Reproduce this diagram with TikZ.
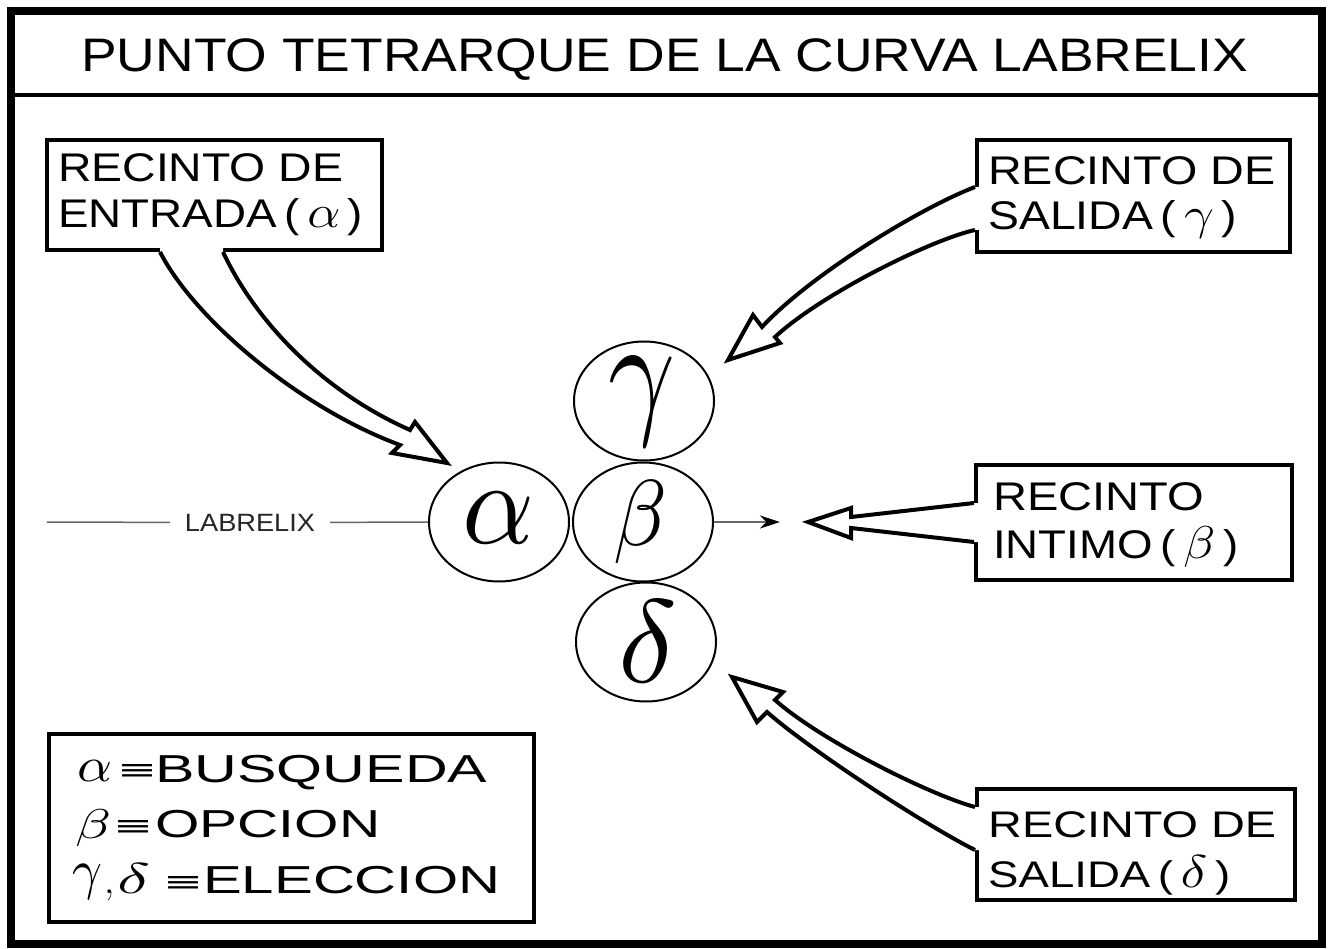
\RequirePackage{fix-cm}
\documentclass[tikz,border=0pt]{standalone}
\usepackage{fontspec}
\setmainfont{Liberation Sans}
\newfontfamily\dejavu{DejaVu Sans}
\usepackage{graphicx}
\usetikzlibrary{shapes.geometric,arrows.meta,calc}
\newcommand\bgk[1]{{\fontsize{46}{48}\selectfont$#1$}}
\newcommand\eqv{\resizebox*{40pt}{15pt}{\dejavu ≡}}
\begin{document}
\begin{tikzpicture}[x=1pt,y=-1pt,
  outerframe/.style={draw=black,line width=8pt},
  rbox/.style={draw=black,line width=4pt,anchor=north west,inner sep=0pt},
  txt/.style={anchor=base west,inner sep=0pt,font=\fontsize{40}{42}\selectfont},
  circ/.style={ellipse,draw=black,line width=2pt,minimum width=140pt,minimum height=119pt,inner sep=0pt},
  fat/.style={draw=black,line width=4pt,line join=miter},
  greyline/.style={draw=black!60,line width=1.5pt},
  gk/.style={inner sep=0pt}]

\useasboundingbox (0,0) rectangle (1330,949);
\fill[white] (0,0) rectangle (1330,949);

% frame and title
\draw[outerframe] (11,11) rectangle (1322,944);
\coordinate (sepL) at (11,95);
\coordinate (sepR) at (1322,95);
\draw[line width=4.5pt] (sepL) -- (sepR);
\node[anchor=base west,inner sep=0pt,font=\fontsize{47}{49}\selectfont] (title) at (81,72)
  {\resizebox{1167pt}{\height}{PUNTO TETRARQUE DE LA CURVA LABRELIX}};

% boxes
\node[rbox,minimum width=335pt,minimum height=110pt] (bA) at (45,138) {};
\node[rbox,minimum width=313pt,minimum height=112pt] (bG) at (975,138) {};
\node[rbox,minimum width=316pt,minimum height=115pt] (bB) at (974,463) {};
\node[rbox,minimum width=318pt,minimum height=111pt] (bD) at (975,787) {};
\node[rbox,minimum width=485pt,minimum height=188pt] (leg) at (47,732) {};

% circles
\node[circ] (cA) at (499,522) {};
\node[circ] (cB) at (643,522) {};
\node[circ] (cG) at (644,401) {};
\node[circ] (cD) at (646,642) {};
\node[gk] (lA) at ($(cA)+(0,-4)$) {\resizebox*{72pt}{51pt}{$\alpha$}};
\node[gk] (lB) at ($(cB)+(-3,0)$) {\resizebox*{54pt}{83pt}{$\beta$}};
\node[gk] (lG) at ($(cG)+(-2,1)$) {\resizebox*{67pt}{89pt}{$\gamma$}};
\node[gk] (lD) at ($(cD)+(2,-1)$) {\resizebox*{59pt}{82pt}{$\delta$}};

% labrelix line
\coordinate (lStart) at (47,522);
\node[anchor=base,inner xsep=15pt,inner ysep=0pt,text=black!85,font=\fontsize{25}{27}\selectfont] (lab) at (250,531)
  {\resizebox{130pt}{\height}{LABRELIX}};
\draw[greyline] (lStart) -- (lab.west);
\draw[greyline] (lab.east) -- (cA.west);
\coordinate (bEnd) at (780,522);
\draw[greyline,-{Stealth[length=20pt,width=13pt,color=black]}] (cB.east) -- (bEnd);

% fat arrow alpha
\coordinate (aL) at ($(bA.south west)+(115,0)$);
\coordinate (aR) at ($(bA.south west)+(178,0)$);
\coordinate (aT) at (447,463);
\fill[white] (aL) .. controls (195,320) and (300,408) .. (400,445) -- (392,453) -- (aT) -- (415,422) -- (410,430)
  .. controls (320,390) and (255,320) .. (aR) -- ($(aR)+(0,-7)$) -- ($(aL)+(0,-7)$) -- cycle;
\draw[fat] (aL) .. controls (195,320) and (300,408) .. (400,445) -- (392,453) -- (aT) -- (415,422) -- (410,430)
  .. controls (320,390) and (255,320) .. (aR);

% fat arrow gamma
\coordinate (gU) at ($(bG.north west)+(0,49)$);
\coordinate (gL) at ($(bG.north west)+(0,92)$);
\coordinate (gT) at (728,360);
\fill[white] (gU) .. controls (920,208) and (810,275) .. (762,327) -- (753,315) -- (gT) -- (780,343) -- (775,337)
  .. controls (820,295) and (930,240) .. (gL) -- ($(gL)+(7,0)$) -- ($(gU)+(7,0)$) -- cycle;
\draw[fat] (gU) .. controls (920,208) and (810,275) .. (762,327) -- (753,315) -- (gT) -- (780,343) -- (775,337)
  .. controls (820,295) and (930,240) .. (gL);

% fat arrow beta
\coordinate (bbU) at ($(bB.north west)+(0,40)$);
\coordinate (bbL) at ($(bB.north west)+(0,79)$);
\coordinate (bT) at (808,522);
\fill[white] (bbU) -- (851,517) -- (851,508) -- (bT) -- (851,538) -- (851,528) -- (bbL)
  -- ($(bbL)+(7,0)$) -- ($(bbU)+(7,0)$) -- cycle;
\draw[fat] (bbU) -- (851,517) -- (851,508) -- (bT) -- (851,538) -- (851,528) -- (bbL);

% fat arrow delta
\coordinate (dU) at ($(bD.north west)+(0,20)$);
\coordinate (dL) at ($(bD.north west)+(0,63)$);
\coordinate (dT) at (732,677);
\fill[white] (dU) .. controls (930,795) and (820,740) .. (775,700) -- (783,692) -- (dT) -- (757,722) -- (767,712)
  .. controls (810,750) and (925,825) .. (dL) -- ($(dL)+(7,0)$) -- ($(dU)+(7,0)$) -- cycle;
\draw[fat] (dU) .. controls (930,795) and (820,740) .. (775,700) -- (783,692) -- (dT) -- (757,722) -- (767,712)
  .. controls (810,750) and (925,825) .. (dL);

% box texts
\node[txt] (tA1) at (58,182) {\resizebox{285pt}{\height}{RECINTO DE}};
\node[txt] (tA2) at (58,228) {\resizebox{305pt}{\height}{ENTRADA\,(\,\bgk{\alpha}\,)}};
\node[txt] (tG1) at (988,185) {\resizebox{287pt}{\height}{RECINTO DE}};
\node[txt] (tG2) at (988,230) {\resizebox{249pt}{\height}{SALIDA\,(\,\bgk{\gamma}\,)}};
\node[txt] (tB1) at (993,510) {\resizebox{211pt}{\height}{RECINTO}};
\node[txt] (tB2) at (993,558) {\resizebox{245pt}{\height}{INTIMO\,(\,\bgk{\beta}\,)}};
\node[txt,font=\fontsize{37}{39}\selectfont] (tD1) at (988,837) {\resizebox{288pt}{\height}{RECINTO DE}};
\node[txt,font=\fontsize{37}{39}\selectfont] (tD2) at (988,887) {\resizebox{242pt}{\height}{SALIDA\,(\,\bgk{\delta}\,)}};

% legend
\node[gk,anchor=south west] (gA) at (77,782) {\resizebox*{35pt}{21pt}{$\alpha$}};
\node[gk,anchor=south west] (gB) at (75,847) {\resizebox*{36pt}{37pt}{$\beta$}};
\node[gk,anchor=south west] (gG) at (72,900) {\resizebox*{30pt}{35pt}{$\gamma$}};
\node[gk,anchor=base west,font=\fontsize{38}{40}\selectfont] (gC) at (104,893) {$,$};
\node[gk,anchor=south west] (gD) at (117,894) {\resizebox*{33pt}{30pt}{$\delta$}};
\node[gk] (e1) at (137,772) {\eqv};
\node[gk] (e2) at (133,828) {\eqv};
\node[gk] (e3) at (183,884) {\eqv};
\node[txt,font=\fontsize{39}{41}\selectfont] (w1) at (155,782) {\resizebox{332pt}{\height}{BUSQUEDA}};
\node[txt,font=\fontsize{39}{41}\selectfont] (w2) at (155,837) {\resizebox{225pt}{\height}{OPCION}};
\node[txt,font=\fontsize{39}{41}\selectfont] (w3) at (203,893) {\resizebox{297pt}{\height}{ELECCION}};
\end{tikzpicture}
\end{document}
